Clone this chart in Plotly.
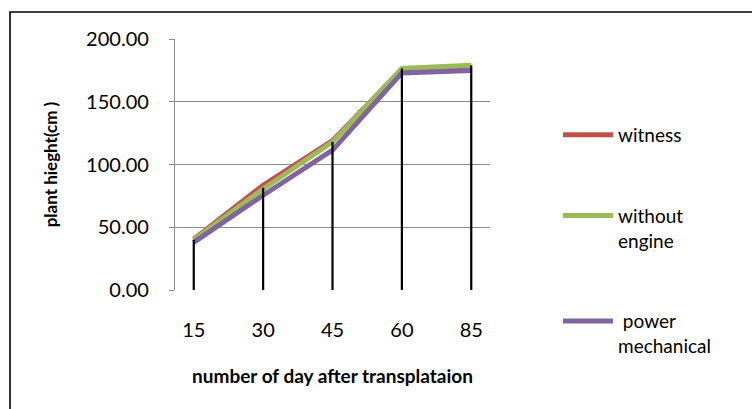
import plotly.graph_objects as go

days = ["15", "30", "45", "60", "85"]
witness = [40.5, 83.5, 119.0, 176.0, 178.5]
without_engine = [40.0, 80.5, 118.0, 176.5, 179.0]
power_mechanical = [38.0, 75.5, 111.5, 173.0, 175.0]
drop_tops = [40.0, 81.5, 118.0, 176.5, 179.0]

FONT = "Lato"
W, H = 752, 409
L, R, T, B = 175, 262, 39, 119
pw, ph = W - L - R, H - T - B

fig = go.Figure()
series = [
    ("witness", witness, "#C0504D"),
    ("without<br>engine", without_engine, "#9BBB59"),
    (" power<br>mechanical", power_mechanical, "#8064A2"),
]
for i, (name, vals, col) in enumerate(series):
    fig.add_trace(go.Scatter(
        x=days, y=vals, name=name, mode="lines",
        line=dict(color=col, width=5),
        legendgroup=f"g{i}",
    ))

# drop lines
fig.add_trace(go.Scatter(
    x=days, y=drop_tops, mode="markers", marker=dict(size=0.1, color="rgba(0,0,0,0)"),
    showlegend=False, hoverinfo="skip",
    error_y=dict(type="data", symmetric=False, array=[0] * len(days),
                 arrayminus=drop_tops, color="black", thickness=2.2, width=0),
))

fig.update_layout(
    width=W, height=H,
    margin=dict(l=L, r=R, t=T, b=B, autoexpand=False),
    paper_bgcolor="white", plot_bgcolor="white",
    font=dict(family=FONT, color="black", size=19),
    legend=dict(
        x=(558 - L) / pw, xanchor="left",
        y=(H - B - 116) / ph, yanchor="top",
        font=dict(family=FONT, size=19, color="black"),
        tracegroupgap=53, bgcolor="rgba(0,0,0,0)",
        itemwidth=50, valign="top",
    ),
    showlegend=True,
)
fig.update_xaxes(
    type="category", showgrid=False, showline=False, zeroline=False,
    ticks="", tickfont=dict(family=FONT, size=20), ticklabelstandoff=26,
    title=dict(text="<b>number of day after transplataion</b>",
               font=dict(family=FONT, size=19), standoff=29),
)
fig.update_yaxes(
    range=[0, 200], tickvals=[0, 50, 100, 150, 200],
    tickformat=".2f", showgrid=True, gridcolor="#8C8C8C", gridwidth=1.3,
    zeroline=False, showline=True, linecolor="#8C8C8C", linewidth=1.3,
    ticks="outside", ticklen=5, tickcolor="#8C8C8C",
    tickfont=dict(family=FONT, size=20), ticklabelstandoff=16,
    title=dict(text="<b>plant hieght(cm )</b>", font=dict(family=FONT, size=17), standoff=24),
)
fig.add_shape(
    type="rect", xref="paper", yref="paper",
    x0=(10 - L) / pw, x1=(770 - L) / pw,
    y0=(H - B - 430) / ph, y1=(H - B - 12) / ph,
    line=dict(color="black", width=1.6), fillcolor="rgba(0,0,0,0)", layer="below",
)
fig.write_html("out.html", post_script="document.body.style.margin='0';",
               config={"displayModeBar": False})
